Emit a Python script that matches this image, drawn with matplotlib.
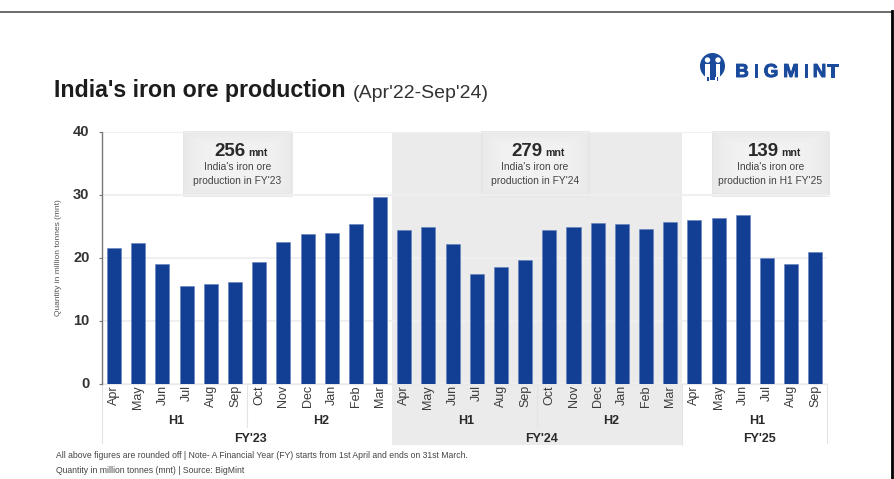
import numpy as np
import matplotlib
matplotlib.use("Agg")
import matplotlib.pyplot as plt
import matplotlib.patheffects as pe
from matplotlib.patches import Ellipse, Circle, Rectangle
from matplotlib.transforms import ScaledTranslation

plt.rcParams['font.family'] = ['Liberation Sans', 'DejaVu Sans']

months = ["Apr", "May", "Jun", "Jul", "Aug", "Sep", "Oct", "Nov", "Dec", "Jan", "Feb", "Mar",
          "Apr", "May", "Jun", "Jul", "Aug", "Sep", "Oct", "Nov", "Dec", "Jan", "Feb", "Mar",
          "Apr", "May", "Jun", "Jul", "Aug", "Sep"]
production = [21.6, 22.4, 19.0, 15.5, 15.8, 16.2, 19.3, 22.5, 23.8, 24.0, 25.5, 29.7,
              24.4, 24.9, 22.3, 17.4, 18.6, 19.7, 24.4, 25.0, 25.6, 25.4, 24.6, 25.7,
              26.1, 26.4, 26.9, 20.0, 19.0, 21.0]
yticks = [0, 10, 20, 30, 40]

W, H = 895, 479
fig = plt.figure(figsize=(W / 100, H / 100), dpi=100, facecolor="white")

# main axes, placed to the pixel
left, right, top, bottom = 102, 827.4, 132.5, 383.7
ax = fig.add_axes([left / W, 1 - bottom / H, (right - left) / W, (bottom - top) / H])
ax.set_xlim(-0.5, 29.5)
ax.set_ylim(0, 40)
ax.set_axisbelow(True)

x = np.arange(len(months))
ax.bar(x, production, width=0.58, color="#123f94", edgecolor="#5f80bd", linewidth=0.4, zorder=3)

for s in ["top", "right", "bottom"]:
    ax.spines[s].set_visible(False)
ax.spines["left"].set_color("#777777")
ax.spines["left"].set_linewidth(1.0)
ax.yaxis.grid(True, color="#f0f0f0", linewidth=1.4)
ax.set_yticks(yticks)
ax.tick_params(axis="y", length=2, width=0.8, color="#777777", pad=7, labelsize=10.5, labelcolor="#333333")
for t in ax.get_yticklabels():
    t.set_fontweight("bold")
    t.set_transform(t.get_transform() + ScaledTranslation(0, 1.5 / 100, fig.dpi_scale_trans))
ax.set_xticks(x)
ax.set_xticklabels(months, rotation=90, fontsize=9, color="#3c3c3c")
ax.tick_params(axis="x", length=0, pad=1)
ax.set_ylabel("Quantity in million tonnes (mnt)", fontsize=6, color="#555555", labelpad=0)
ax.yaxis.set_label_coords(-0.055, 0.5)

# overlay in pixel coordinates for the decorations
ov = fig.add_axes([0, 0, 1, 1], zorder=-1)
ov.axis("off")
ax.patch.set_alpha(0)

ov.add_patch(Rectangle((392, 132), 290.3, 313.5, color="#ebebeb", lw=0))


def gradient_box(x0, x1, y0, y1):
    yy, xx = np.mgrid[-1:1:40j, -1:1:80j]
    r = np.clip(np.maximum(np.abs(xx), np.abs(yy)), 0, 1)
    ov.imshow(0.95 - 0.04 * r ** 3, extent=(x0, x1, y1, y0), cmap="gray", vmin=0, vmax=1,
              aspect="auto", zorder=2, interpolation="bilinear")
    ov.add_patch(Rectangle((x0, y0), x1 - x0, y1 - y0, fill=False, ec="#e4e4e4", lw=0.6, zorder=3))


gradient_box(183, 292, 132, 195.5)
gradient_box(480.7, 588.7, 132, 195.5)
gradient_box(712, 829, 132, 195.5)
ov.set_xlim(0, W)
ov.set_ylim(H, 0)

# separators under the axis
for px, y1 in [(102, 443), (247, 427), (537.5, 427), (682.3, 445), (827.4, 443)]:
    ov.plot([px, px], [384, y1], color="#e4e4e4", lw=0.8, zorder=1)
ov.plot([102, 827.4], [384, 384], color="#e8e8e8", lw=0.8, zorder=1)

# page border
ov.plot([0, 892], [11.5, 11.5], color="#444444", lw=1.1)
ov.plot([892, 892], [11, 479], color="#000000", lw=2)


def txt(px, py, s, **kw):
    return fig.text(px / W, 1 - py / H, s, **kw)


txt(54, 97.5, "India's iron ore production", fontsize=16.7, fontweight="bold", color="#1c1c1c", va="baseline")
txt(353, 97.5, "(Apr'22-Sep'24)", fontsize=14, color="#333333", va="baseline")

# callouts
for cx, num, line1, line2 in [(237.5, "256", "India's iron ore", "production in FY'23"),
                              (534.7, "279", "India's iron ore", "production in FY'24"),
                              (770.5, "139", "India's iron ore", "production in H1 FY'25")]:
    txt(cx - 7.5, 155.5, num, fontsize=13.5, fontweight="bold", color="#2a2a2a", ha="center", va="baseline")
    txt(cx + 20, 155.5, "mnt", fontsize=7.6, fontweight="bold", color="#2a2a2a", ha="center", va="baseline")
    txt(cx, 170.5, line1, fontsize=7.4, color="#444444", ha="center", va="baseline")
    txt(cx, 184.5, line2, fontsize=7.4, color="#444444", ha="center", va="baseline")

# half and financial year labels
for cx, s in [(176.5, "H1"), (321.5, "H2"), (466.5, "H1"), (611.5, "H2"), (757, "H1")]:
    txt(cx, 424.5, s, fontsize=9, fontweight="bold", color="#2a2a2a", ha="center", va="baseline")
for cx, s in [(251, "FY'23"), (541.5, "FY'24"), (759, "FY'25")]:
    txt(cx, 442.5, s, fontsize=9, fontweight="bold", color="#2a2a2a", ha="center", va="baseline")

# footnotes
txt(56, 458, "All above figures are rounded off | Note- A Financial Year (FY) starts from 1st April and ends on 31st March.",
    fontsize=6.2, color="#444444", va="baseline")
txt(56, 473, "Quantity in million tonnes (mnt) | Source: BigMint", fontsize=6.2, color="#444444", va="baseline")

# logo
blue = "#1a4a9c"
ov.add_patch(Ellipse((712.5, 66), 25, 26, color=blue, lw=0, zorder=4))
ov.add_patch(Rectangle((699, 76.5), 28, 6, color="white", lw=0, zorder=5))
ov.add_patch(Circle((707.5, 60), 2.7, color="white", lw=0, zorder=7))
ov.add_patch(Circle((718, 60), 2.7, color="white", lw=0, zorder=7))
ov.add_patch(Rectangle((705.3, 63.5), 4.5, 14, color="white", lw=0, zorder=7))
ov.add_patch(Rectangle((715.7, 63.5), 4.5, 14, color="white", lw=0, zorder=7))
ov.add_patch(Rectangle((710, 70), 5.5, 10, color=blue, lw=0, zorder=8))
ov.add_patch(Rectangle((707.5, 77), 1.5, 4, color=blue, lw=0, zorder=8))
ov.add_patch(Rectangle((717, 77), 1.5, 4, color=blue, lw=0, zorder=8))
for cx, ch in zip([742, 756, 771, 791, 806, 819.5, 832.5], "BIGMINT"):
    t = txt(cx, 77, ch, fontsize=13.5, fontweight="bold", color=blue, ha="center", va="baseline")
    t.set_path_effects([pe.withStroke(linewidth=0.7, foreground=blue)])

fig.savefig("out.png", dpi=100)
